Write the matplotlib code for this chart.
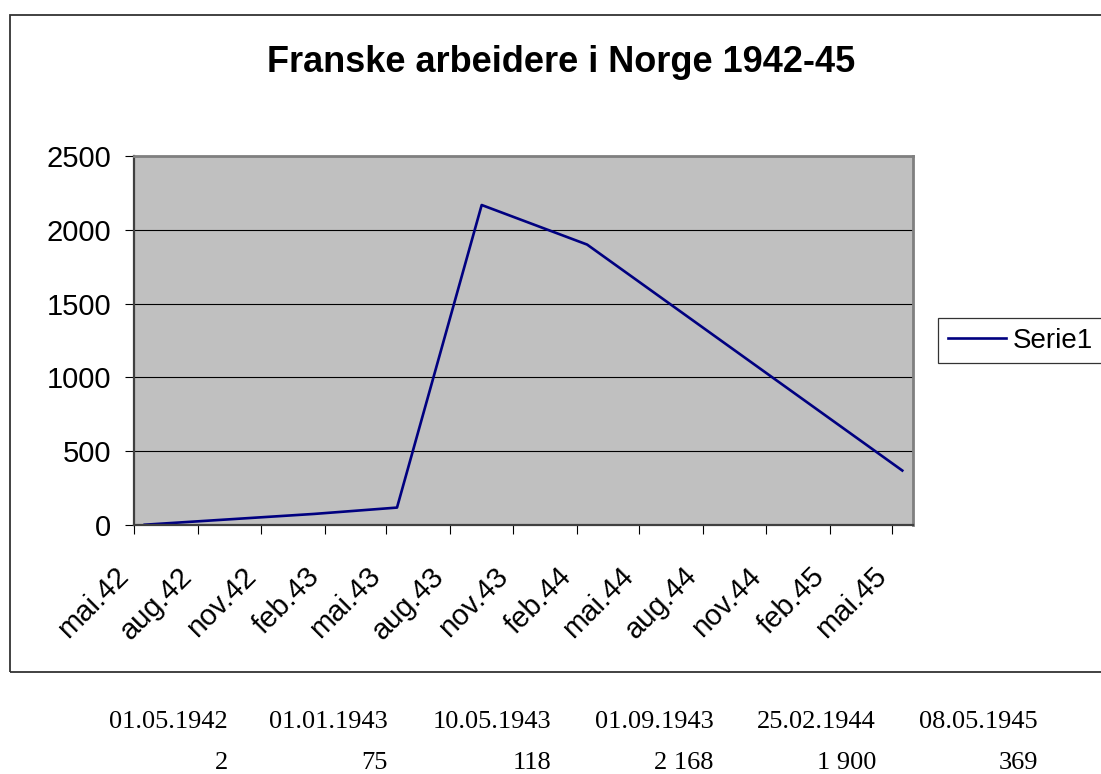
import datetime as dt
import matplotlib
matplotlib.use('Agg')
import matplotlib.pyplot as plt
import matplotlib.dates as mdates
from matplotlib.patches import Rectangle

# data
dates = ['01.05.1942', '01.01.1943', '10.05.1943', '01.09.1943', '25.02.1944', '08.05.1945']
values = [2, 75, 118, 2168, 1900, 369]
tick_labels = ['mai.42', 'aug.42', 'nov.42', 'feb.43', 'mai.43', 'aug.43', 'nov.43',
               'feb.44', 'mai.44', 'aug.44', 'nov.44', 'feb.45', 'mai.45']
title = 'Franske arbeidere i Norge 1942-45'
series_name = 'Serie1'

plt.rcParams['font.family'] = ['Liberation Sans', 'DejaVu Sans']

W, H = 1101, 774
fig = plt.figure(figsize=(W / 100, H / 100), dpi=100)


def month_start(y, m):
    return dt.date(y + (m - 1) // 12, (m - 1) % 12 + 1, 1)


def month_centre(s):
    # points sit in the middle of their month, like a month based date axis
    d = dt.datetime.strptime(s, '%d.%m.%Y').date()
    a = mdates.date2num(month_start(d.year, d.month))
    b = mdates.date2num(month_start(d.year, d.month + 1))
    return (a + b) / 2


xs = [month_centre(s) for s in dates]

# outer chart frame
fig.patches.append(Rectangle((9.5 / W, 1 - 672 / H), 1.2, (672 - 15) / H,
                             transform=fig.transFigure, fill=False,
                             edgecolor='#333333', lw=1.3))

left, right, top, bottom = 134, 913, 156, 525
ax = fig.add_axes([left / W, 1 - bottom / H, (right - left) / W, (bottom - top) / H])
ax.set_facecolor('#C0C0C0')

line, = ax.plot(xs, values, color='#000080', lw=1.9, label=series_name)

ax.set_ylim(0, 2500)
ax.set_yticks(range(0, 2501, 500))
ax.yaxis.grid(True, color='black', lw=0.8)
ax.set_axisbelow(True)

ax.set_xlim(mdates.date2num(dt.date(1942, 5, 1)), mdates.date2num(dt.date(1945, 6, 1)))
ticks = [mdates.date2num(month_start(1942, 5 + 3 * i)) for i in range(len(tick_labels))]
ax.set_xticks(ticks)
ax.set_xticklabels(tick_labels, rotation=45, ha='right')

ax.tick_params(axis='both', direction='out', length=6.5, width=0.8, color='black',
               labelsize=21)
ax.tick_params(axis='y', pad=10)
ax.tick_params(axis='x', pad=20)

for side in ['left', 'bottom']:
    ax.spines[side].set_color('#404040')
    ax.spines[side].set_linewidth(1.6)
for side in ['top', 'right']:
    ax.spines[side].set_color('#808080')
    ax.spines[side].set_linewidth(2)

fig.text(561 / W, 1 - 62 / H, title, ha='center', va='center',
         fontsize=26, fontweight='bold')

leg = fig.legend(handles=[line], loc='center left',
                 bbox_to_anchor=(938 / W, 1 - 340.5 / H), fontsize=20,
                 frameon=True, fancybox=False, shadow=False, borderpad=0.35,
                 handlelength=2.1, handletextpad=0.25, borderaxespad=0)
leg.get_frame().set_edgecolor('black')
leg.get_frame().set_linewidth(0.9)

# table below the chart
col_right = [228, 388, 551, 714, 876, 1038]
for xr, d, v in zip(col_right, dates, values):
    fig.text(xr / W, 1 - 728 / H, d, ha='right', va='baseline',
             family='Liberation Serif', fontsize=19)
    fig.text(xr / W, 1 - 769 / H, f'{v:,}'.replace(',', ' '), ha='right',
             va='baseline', family='Liberation Serif', fontsize=19)

fig.savefig('out.png', dpi=100)
